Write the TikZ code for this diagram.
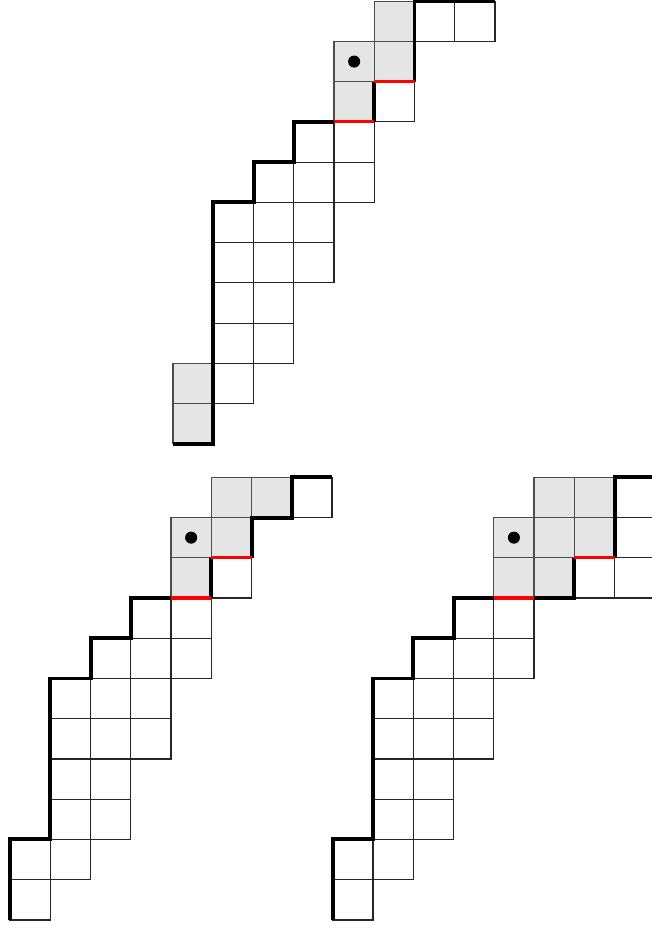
\documentclass[tikz,border=0pt]{standalone}
\tikzset{
  cell/.style={draw=black!85, line width=0.8pt},
  greycell/.style={fill=black!10, draw=black!70, line width=0.8pt},
  rim/.style={line width=2.8pt},
  cutedge/.style={draw=red, line width=2.2pt},
  marker/.style={circle, fill=black, inner sep=0pt, minimum size=3mm},
}
\newcommand{\boxes}[2]{\foreach \x/\y in {#2} \draw[#1] (\x,\y) rectangle ++(1,1);}
\newcommand{\stairbody}{\boxes{cell}{1/1,1/2,2/2,1/3,2/3,1/4,2/4,3/4,1/5,2/5,3/5,2/6,3/6,4/6,3/7,4/7}}

\begin{document}
\begin{tikzpicture}
  \useasboundingbox (-0.25,-0.15) rectangle (15.93,22.86);

  \begin{scope}[shift={(4.05,11.83)}]
    \stairbody
    \boxes{cell}{5/8,6/10,7/10}
    \boxes{greycell}{0/0,0/1,4/8,4/9,5/9,5/10}
    \node[marker] (dotA) at (4.5,9.5) {};
    \draw[rim] (0,0) -- (1,0) -- (1,6) -- (2,6) -- (2,7) -- (3,7) -- (3,8) -- (4,8);
    \draw[rim] (5,8) -- (5,9);
    \draw[rim] (6,9) -- (6,11) -- (8,11);
    \draw[cutedge] (4,8) -- (5,8) (5,9) -- (6,9);
  \end{scope}

  \begin{scope}
    \stairbody
    \boxes{cell}{0/0,0/1,5/8,7/10}
    \boxes{greycell}{4/8,4/9,5/9,5/10,6/10}
    \node[marker] (dotB) at (4.5,9.5) {};
    \draw[rim] (0,0) -- (0,2) -- (1,2) -- (1,6) -- (2,6) -- (2,7) -- (3,7) -- (3,8) -- (4,8);
    \draw[rim] (5,8) -- (5,9);
    \draw[rim] (6,9) -- (6,10) -- (7,10) -- (7,11) -- (8,11);
    \draw[cutedge] (4,8) -- (5,8) (5,9) -- (6,9);
  \end{scope}

  \begin{scope}[shift={(8.02,0)}]
    \stairbody
    \boxes{cell}{0/0,0/1,6/8,7/8,7/9,7/10}
    \boxes{greycell}{4/8,5/8,4/9,5/9,6/9,5/10,6/10}
    \node[marker] (dotC) at (4.5,9.5) {};
    \draw[rim] (0,0) -- (0,2) -- (1,2) -- (1,6) -- (2,6) -- (2,7) -- (3,7) -- (3,8) -- (4,8);
    \draw[rim] (5,8) -- (6,8) -- (6,9);
    \draw[rim] (7,9) -- (7,11) -- (8.5,11);
    \draw[cutedge] (4,8) -- (5,8) (6,9) -- (7,9);
  \end{scope}
\end{tikzpicture}
\end{document}
